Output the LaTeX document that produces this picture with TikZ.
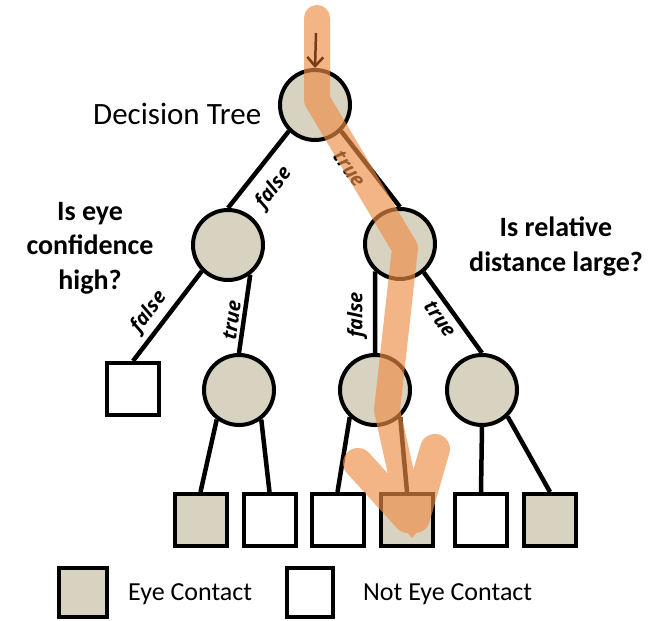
\documentclass[tikz,border=0pt]{standalone}
\usepackage{fontspec}
\setmainfont{Carlito}
\newfontfamily\lblfont{Open Sans}
\usetikzlibrary{arrows.meta}
\definecolor{beige}{RGB}{216,211,193}
\definecolor{hl}{RGB}{238,140,70}
\definecolor{brownarrow}{RGB}{120,60,20}
\begin{document}
\begin{tikzpicture}[x=1pt,y=-1pt,
  dn/.style={circle, draw=black, line width=4pt, fill=beige, minimum size=70pt, inner sep=0pt},
  leaf/.style={rectangle, draw=black, line width=4pt, minimum size=52pt, inner sep=0pt},
  yes/.style={leaf, fill=beige},
  no/.style={leaf, fill=white},
  edge/.style={line width=4.5pt, black},
  lbl/.style={font=\lblfont\bfseries\itshape\fontsize{20}{20}\selectfont, inner sep=0pt},
  q/.style={font=\bfseries\fontsize{28}{34.5}\selectfont, align=center, inner sep=0pt, anchor=north},
  legtxt/.style={font=\fontsize{26}{26}\selectfont, anchor=base west, inner sep=0pt},
  ]
\fill[white] (0,0) rectangle (665,621);
\useasboundingbox (0,0) rectangle (665,621);

% nodes
\node[dn] (root) at (315,105) {};
\node[dn] (L) at (228,245) {};
\node[dn] (R) at (400,244) {};
\node[no] (leafL) at (133,389) {};
\node[dn] (C1) at (239,390) {};
\node[dn] (C2) at (375,390) {};
\node[dn] (C3) at (482,390) {};
\node[yes] (B1) at (200.5,520) {};
\node[no] (B2) at (269.5,520) {};
\node[no] (B3) at (337.5,520) {};
\node[yes] (B4) at (407,520) {};
\node[no] (B5) at (481,520) {};
\node[yes] (B6) at (550,520) {};

% edges
\draw[edge] (root.-135) -- (L.north);
\draw[edge] (root.-45) -- (R.north);
\draw[edge] (L.-135) -- (leafL.north);
\draw[edge] (L.-53) -- (C1.north);
\draw[edge] (R.-132) -- (C2.north);
\draw[edge] (R.-50) -- (C3.north);
\draw[edge] (C1.-127) -- (B1.north);
\draw[edge] (C1.-53) -- (B2.north);
\draw[edge] (C2.-133) -- (B3.north);
\draw[edge] (C2.-47) -- (B4.north);
\draw[edge] (C3.south) -- (B5.north);
\draw[edge] (C3.-46) -- (B6.north);

% edge labels
\node[lbl, rotate=52.5] (l1) at (274,188) {false};
\node[lbl, rotate=-54] (l2) at (349,169) {true};
\node[lbl, rotate=52.7] (l3) at (149,312) {false};
\node[lbl, rotate=82.5] (l4) at (232,320) {true};
\node[lbl, rotate=90] (l5) at (357,315) {false};
\node[lbl, rotate=-55] (l6) at (440,319) {true};

% highlighted path
\coordinate (h0) at (317,18);
\coordinate (h1) at (317,100);
\coordinate (h2) at (405,248);
\coordinate (h3) at (387,410);
\coordinate (h4) at (411,518);
\coordinate (aL) at (358,463);
\coordinate (aR) at (435,449);
\coordinate (tip) at (412,538);
\begin{scope}[transparency group, opacity=0.65]
\draw[hl, line width=26pt, line cap=round, line join=round] (h0) -- (h1) -- (h2) -- (h3) -- (h4);
\draw[hl, line width=30pt, line cap=round] (aL) -- (408,518);
\draw[hl, line width=30pt, line cap=round] (aR) -- (415,518);
\fill[hl] (393,516) -- (431,516) -- (tip) -- cycle;
\end{scope}
\draw[brownarrow, line width=2.5pt, -{Straight Barb[length=9pt,width=16pt]}] (316,33) -- (root.north);

% texts
\node[font=\fontsize{31}{31}\selectfont, anchor=base west, inner sep=0pt] (title) at (93,124) {Decision Tree};
\node[q] (q1) at (90,202) {Is eye\\confidence\\high?};
\node[q] (q2) at (556,217) {Is relative\\distance large?};

% legend
\node[yes, minimum width=48pt, minimum height=49pt] (k1) at (83,592) {};
\node[no, minimum width=46pt, minimum height=49pt] (k2) at (309.5,592) {};
\node[legtxt] (t1) at (128,600) {Eye Contact};
\node[legtxt] (t2) at (363,600) {Not Eye Contact};
\end{tikzpicture}
\end{document}
